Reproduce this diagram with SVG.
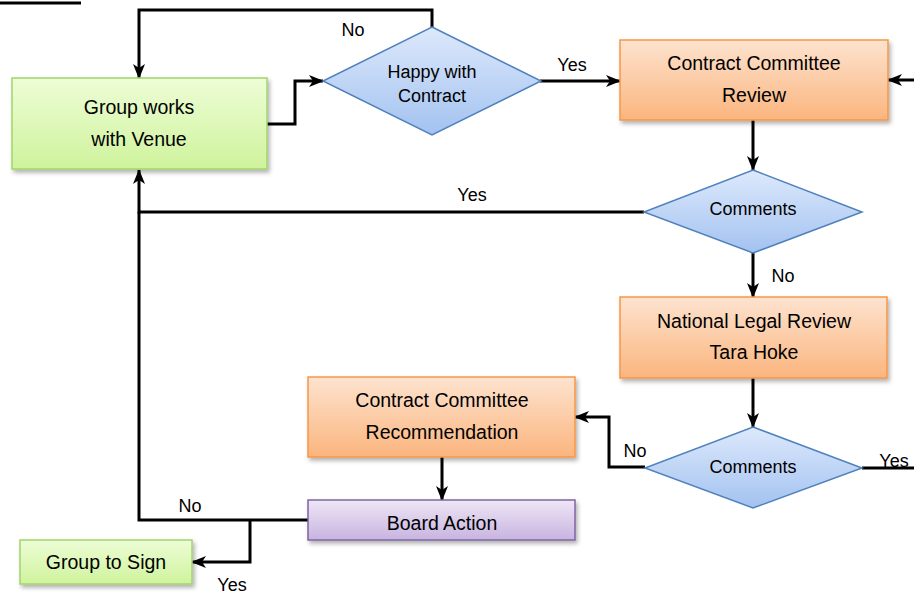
<svg xmlns="http://www.w3.org/2000/svg" width="914" height="594" viewBox="0 0 914 594">
<defs>
<linearGradient id="gGreen" x1="0" y1="0" x2="0" y2="1"><stop offset="0" stop-color="#edfdd6"/><stop offset="1" stop-color="#cff39c"/></linearGradient>
<linearGradient id="gOrange" x1="0" y1="0" x2="0" y2="1"><stop offset="0" stop-color="#fde3cf"/><stop offset="1" stop-color="#fbb57e"/></linearGradient>
<linearGradient id="gBlue" x1="0" y1="0" x2="0" y2="1"><stop offset="0" stop-color="#dde9fc"/><stop offset="1" stop-color="#a3c2f0"/></linearGradient>
<linearGradient id="gPurple" x1="0" y1="0" x2="0" y2="1"><stop offset="0" stop-color="#eee6f6"/><stop offset="1" stop-color="#c8b4e0"/></linearGradient>
<filter id="sh" x="-10%" y="-10%" width="130%" height="140%"><feDropShadow dx="2" dy="3" stdDeviation="2" flood-color="#000" flood-opacity="0.3"/></filter>
<marker id="arr" markerWidth="15" markerHeight="12" refX="14" refY="6" orient="auto" markerUnits="userSpaceOnUse"><path d="M0,0 L15,6 L0,12 L4,6 z" fill="#000"/></marker>
</defs>
<style>
.green{fill:url(#gGreen);stroke:#a3d46c;stroke-width:1.5;filter:url(#sh)}
.orange{fill:url(#gOrange);stroke:#f79646;stroke-width:1.5;filter:url(#sh)}
.blue{fill:url(#gBlue);stroke:#4f81bd;stroke-width:1.5}
.purple{fill:url(#gPurple);stroke:#8064a2;stroke-width:1.5;filter:url(#sh)}
text{font-family:"Liberation Sans",Arial,sans-serif;fill:#000;text-anchor:middle}
.t{font-size:19.5px}
.d{font-size:18px}
.l{font-size:18px}
.c{fill:none;stroke:#000;stroke-width:3}
.a{marker-end:url(#arr)}
</style>
<g id="connectors">
<path class="c" d="M0,3 H81"/>
<path class="c a" d="M432,27 V10 H139 V78"/>
<path class="c a" d="M267,124 H295 V81 H323"/>
<path class="c a" d="M540,81 H620"/>
<path class="c a" d="M914,80 H888"/>
<path class="c a" d="M753,120 V170"/>
<path class="c a" d="M644,212 H139 V170"/>
<path class="c a" d="M753,253 V297"/>
<path class="c a" d="M753,378 V427"/>
<path class="c a" d="M645,467 H609 V417 H575"/>
<path class="c" d="M862,468 H914"/>
<path class="c a" d="M442,457 V500"/>
<path class="c" d="M308,520 H139 V212"/>
<path class="c a" d="M250,520 V562 H192"/>
<text class="l" x="353" y="36">No</text>
<text class="l" x="572" y="71">Yes</text>
<text class="l" x="472" y="201">Yes</text>
<text class="l" x="783" y="282">No</text>
<text class="l" x="635" y="457">No</text>
<text class="l" x="894" y="467">Yes</text>
<text class="l" x="190" y="512">No</text>
<text class="l" x="232" y="591">Yes</text>
</g>
<g id="group-works">
<rect class="green" x="12" y="78" width="255" height="91"/>
<text class="t" x="139" y="114">Group works</text>
<text class="t" x="139" y="146">with Venue</text>
</g>
<g id="happy">
<path class="blue" d="M432,27 L541,81 L432,135 L323,81 Z"/>
<text class="d" x="432" y="78">Happy with</text>
<text class="d" x="432" y="102">Contract</text>
</g>
<g id="cc-review">
<rect class="orange" x="620" y="40" width="268" height="80"/>
<text class="t" x="754" y="70">Contract Committee</text>
<text class="t" x="754" y="102">Review</text>
</g>
<g id="comments1">
<path class="blue" d="M753,170 L862,212 L753,253 L644,212 Z"/>
<text class="d" x="753" y="215">Comments</text>
</g>
<g id="legal-review">
<rect class="orange" x="620" y="297" width="267" height="81"/>
<text class="t" x="754" y="328">National Legal Review</text>
<text class="t" x="754" y="359">Tara Hoke</text>
</g>
<g id="comments2">
<path class="blue" d="M753,427 L862,468 L753,508 L645,468 Z"/>
<text class="d" x="753" y="473">Comments</text>
</g>
<g id="cc-recommendation">
<rect class="orange" x="308" y="377" width="267" height="80"/>
<text class="t" x="442" y="407">Contract Committee</text>
<text class="t" x="442" y="439">Recommendation</text>
</g>
<g id="board-action">
<rect class="purple" x="308" y="500" width="267" height="40"/>
<text class="t" x="442" y="530">Board Action</text>
</g>
<g id="group-to-sign">
<rect class="green" x="20" y="540" width="172" height="44"/>
<text class="t" x="106" y="569">Group to Sign</text>
</g>
</svg>
